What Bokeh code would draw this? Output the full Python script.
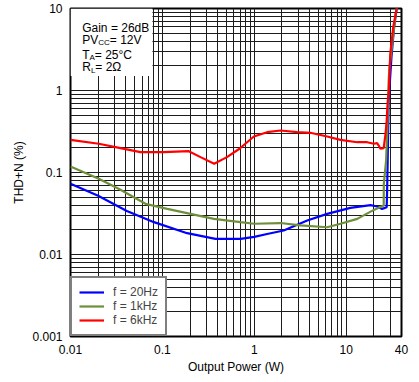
from bokeh.plotting import figure
from bokeh.models import (Range1d, FixedTicker, CustomJSTickFormatter, Legend,
                          LegendItem, Label, BoxAnnotation)
from bokeh.embed import file_html
from bokeh.resources import INLINE

# ---- data -------------------------------------------------------------
x_ticks = [0.01, 0.1, 1, 10, 40]
y_ticks = [0.001, 0.01, 0.1, 1, 10]
x_minor = [m * 10 ** e for e in (-2, -1, 0, 1) for m in range(2, 10) if m * 10 ** e < 40]
y_minor = [m * 10 ** e for e in (-3, -2, -1, 0) for m in range(2, 10)]

f20_x = [0.01, 0.02, 0.041, 0.081, 0.186, 0.378, 0.71, 1.0, 1.38, 2.09, 3.77, 6.21,
         11.1, 18.4, 21.7, 24.6, 27.6, 27.9, 28.3, 29.0, 31.1, 33.2, 35.4, 36.5]
f20_y = [0.073, 0.052, 0.034, 0.0248, 0.0182, 0.0155, 0.0155, 0.0164, 0.0178, 0.0196,
         0.026, 0.0313, 0.0371, 0.040, 0.0385, 0.036, 0.0377, 0.06, 0.14, 0.75, 2.55,
         5.9, 9.9, 11.0]

f1k_x = [0.01, 0.0203, 0.035, 0.0654, 0.113, 0.202, 0.363, 0.708, 0.99, 1.93, 3.18,
         6.21, 8.67, 13.2, 20.0, 25.6, 25.7, 27.2, 27.9, 28.5, 29.0, 29.6, 34.6, 36.0]
f1k_y = [0.118, 0.0838, 0.0615, 0.0415, 0.036, 0.0313, 0.0272, 0.0248, 0.0237, 0.0242,
         0.0226, 0.0215, 0.0237, 0.0272, 0.035, 0.0396, 0.073, 0.14, 0.296, 0.57, 1.32,
         1.92, 8.6, 11.0]

f6k_x = [0.01, 0.0203, 0.035, 0.0577, 0.103, 0.194, 0.26, 0.366, 0.504, 0.69, 0.99,
         1.38, 1.93, 2.93, 4.08, 6.21, 8.67, 13.2, 16.9, 20.0, 21.7, 22.6, 23.6, 25.6,
         26.8, 27.6, 28.2, 29.1, 30.2, 32.5, 35.4, 36.5]
f6k_y = [0.25, 0.224, 0.198, 0.177, 0.177, 0.182, 0.154, 0.128, 0.154, 0.195, 0.275,
         0.31, 0.325, 0.31, 0.305, 0.275, 0.25, 0.234, 0.234, 0.224, 0.228, 0.213,
         0.195, 0.198, 0.296, 0.43, 0.69, 1.0, 2.8, 5.9, 9.9, 11.0]

series_labels = ["f = 20Hz", "f = 1kHz", "f = 6kHz"]
series_colors = ["#0000FF", "#6E8F3A", "#FF0000"]

FONT = "Liberation Sans"

# ---- figure -----------------------------------------------------------
p = figure(width=419, height=382, x_axis_type="log", y_axis_type="log",
           x_range=Range1d(0.01, 40), y_range=Range1d(0.001, 10),
           output_backend="svg", toolbar_location=None,
           min_border_left=70, min_border_right=18, min_border_top=8,
           min_border_bottom=46)
p.background_fill_color = "white"
p.border_fill_color = "white"
p.outline_line_color = "black"
p.outline_line_width = 2

fmt = CustomJSTickFormatter(code="return String(tick);")
p.xaxis.ticker = FixedTicker(ticks=x_ticks, minor_ticks=x_minor)
p.yaxis.ticker = FixedTicker(ticks=y_ticks, minor_ticks=y_minor)
for ax in (p.xaxis[0], p.yaxis[0]):
    ax.formatter = fmt
    ax.major_tick_line_color = None
    ax.minor_tick_line_color = None
    ax.axis_line_color = None
    ax.major_tick_out = 0
    ax.minor_tick_out = 0
    ax.major_label_text_font = FONT
    ax.major_label_text_font_size = "12px"
    ax.major_label_text_color = "black"
    ax.axis_label_text_font = FONT
    ax.axis_label_text_font_size = "12px"
    ax.axis_label_text_font_style = "normal"
    ax.axis_label_text_color = "black"

p.xaxis.axis_label = "Output Power (W)"
p.yaxis.axis_label = "THD+N (%)"
p.xaxis.major_label_standoff = 8
p.xaxis.axis_label_standoff = 3
p.yaxis.major_label_standoff = 8
p.yaxis.axis_label_standoff = 3

for g in (p.xgrid[0], p.ygrid[0]):
    g.grid_line_color = "#1c1c1c"
    g.grid_line_width = 1
    g.minor_grid_line_color = "#1c1c1c"
    g.minor_grid_line_width = 1

# white box behind the condition text
p.add_layout(BoxAnnotation(left=0.01, right=0.078, top=10, bottom=1.5,
                           fill_color="white", fill_alpha=1, line_color=None,
                           level="underlay"))

renderers = []
for xs, ys, c in zip((f20_x, f1k_x, f6k_x), (f20_y, f1k_y, f6k_y), series_colors):
    r = p.line(xs, ys, line_color=c, line_width=2.2)
    renderers.append(r)

legend = Legend(items=[LegendItem(label=l, renderers=[r]) for l, r in zip(series_labels, renderers)],
                location="bottom_left", margin=0, padding=7, spacing=0,
                label_height=14, glyph_height=14, glyph_width=25, label_standoff=9,
                border_line_color="black", border_line_width=2,
                background_fill_color="white", background_fill_alpha=1,
                label_text_font=FONT, label_text_font_size="12px")
p.add_layout(legend)

# condition text (positions as pixel offsets from top-left of plot area)
def lab(text, dx, dy, size="12px"):
    p.add_layout(Label(x=0.01, y=10, x_offset=dx, y_offset=dy, text=text,
                       text_font=FONT, text_font_size=size, text_color="black",
                       text_baseline="alphabetic", text_align="left"))

lab("Gain = 26dB", 11.7, -19.3)
lab("PV", 11.7, -31.3)
lab("CC", 27.7, -34.3, "8px")
lab(" = 12V", 39.3, -31.3)
lab("T", 11.7, -46)
lab("A", 19.0, -49, "8px")
lab(" = 25°C", 24.3, -46)
lab("R", 11.7, -58.7)
lab("L", 20.4, -61.7, "8px")
lab(" = 2Ω", 24.8, -58.7)

p.add_layout(Label(x=40, y=0.001, x_offset=15, y_offset=-41.7, text="G025",
                   text_font=FONT, text_font_size="6px", text_font_style="bold",
                   text_color="black", text_baseline="middle", text_align="right"))

open("out.html", "w").write(file_html(p, INLINE))
